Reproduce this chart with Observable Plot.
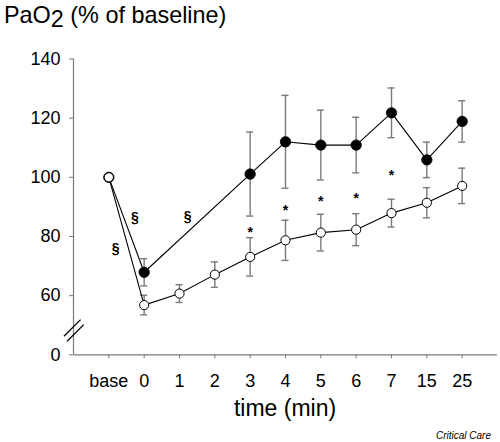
<!DOCTYPE html>
<html>
<head>
<meta charset="utf-8">
<script src="https://cdn.jsdelivr.net/npm/d3@7"></script>
<script src="https://cdn.jsdelivr.net/npm/@observablehq/plot@0.6"></script>
<style>
  html, body { margin: 0; padding: 0; background: #fff; }
  #chart svg { display: block; }
</style>
</head>
<body>
<div id="chart"></div>
<script>
// ---- data ----
const timeLabels = ["base", "0", "1", "2", "3", "4", "5", "6", "7", "15", "25"];
const openMean   = [100, 56.8, 60.7, 67.1, 73.1, 78.7, 81.3, 82.3, 87.9, 91.4, 97.1];
const openErr    = [0, 3.3, 3.0, 4.3, 6.5, 6.8, 6.2, 5.4, 4.7, 5.1, 6.0];
const filledMean = [100, 67.9, null, null, 101.1, 112.0, 110.9, 110.9, 121.8, 105.9, 118.9];
const filledErr  = [0, 4.6, null, null, 14.2, 15.7, 11.8, 9.4, 8.4, 6.0, 7.0];
// significance marks
const starIndex  = [4, 5, 6, 7, 8];
const starValue  = [82.6, 89.8, 93.0, 94.1, 101.9];
const sectIndex  = [0.19, 0.74, 2.23];
const sectValue  = [76.0, 86.3, 86.6];
// y axis: broken axis, "0" drawn where 40 would be
const yTickValues = [40, 60, 80, 100, 120, 140];
const yTickLabels = ["0", "60", "80", "100", "120", "140"];
// axis-break slashes (in data units)
const breakX1 = [-1.27, -1.18];
const breakY1 = [46.3, 44.6];
const breakX2 = [-0.80, -0.71];
const breakY2 = [51.9, 50.2];

const gray = "#7a7a7a";
const font = "'Liberation Sans', Arial, Helvetica, sans-serif";

const openRows = timeLabels.map((t, i) => ({i, v: openMean[i], e: openErr[i]}));
const filledRows = timeLabels.map((t, i) => ({i, v: filledMean[i], e: filledErr[i]})).filter(d => d.v != null);
const errRows = [...filledRows, ...openRows].filter(d => d.e > 0);
const starRows = starIndex.map((i, k) => ({i, v: starValue[k]}));
const sectRows = sectIndex.map((i, k) => ({i, v: sectValue[k]}));
const breakRows = breakX1.map((x, k) => ({x1: x, y1: breakY1[k], x2: breakX2[k], y2: breakY2[k]}));

const capHalf = 0.1;

const chart = Plot.plot({
  width: 500,
  height: 442,
  marginLeft: 73,
  marginRight: 3,
  marginTop: 58.5,
  marginBottom: 87.7,
  style: {fontFamily: font, background: "#fff", color: "#000"},
  x: {type: "linear", domain: [-1, 11], axis: null},
  y: {type: "linear", domain: [40, 140], axis: null},
  marks: [
    // axes
    Plot.ruleX([-1], {y1: 40, y2: 140, stroke: gray, strokeWidth: 1.2}),
    Plot.ruleY([40], {x1: -1, x2: 11, stroke: gray, strokeWidth: 1.2}),
    Plot.axisY({ticks: yTickValues, tickFormat: d => yTickLabels[yTickValues.indexOf(d)], tickSize: 4, tickPadding: 9, fontSize: 18, stroke: gray, fill: "#000"}),
    Plot.axisX({ticks: d3.range(timeLabels.length), tickFormat: i => timeLabels[i], tickSize: 4, tickPadding: 15, fontSize: 18, stroke: gray, fill: "#000"}),
    Plot.link(breakRows, {x1: "x1", y1: "y1", x2: "x2", y2: "y2", stroke: "#000", strokeWidth: 1.3}),
    // error bars
    Plot.ruleX(errRows, {x: "i", y1: d => d.v - d.e, y2: d => d.v + d.e, stroke: gray, strokeWidth: 1.4}),
    Plot.ruleY(errRows, {y: d => d.v + d.e, x1: d => d.i - capHalf, x2: d => d.i + capHalf, stroke: gray, strokeWidth: 1.4}),
    Plot.ruleY(errRows, {y: d => d.v - d.e, x1: d => d.i - capHalf, x2: d => d.i + capHalf, stroke: gray, strokeWidth: 1.4}),
    // lines
    Plot.line(filledRows, {x: "i", y: "v", stroke: "#000", strokeWidth: 1.1}),
    Plot.line(openRows, {x: "i", y: "v", stroke: "#000", strokeWidth: 1.1}),
    // points
    Plot.dot(filledRows, {x: "i", y: "v", r: 5.2, fill: "#000", stroke: "#000", strokeWidth: 0.8}),
    Plot.dot(openRows, {x: "i", y: "v", r: 4.6, fill: "#fff", stroke: "#000", strokeWidth: 1}),
    // significance markers
    Plot.text(starRows, {x: "i", y: "v", text: () => "*", fontSize: 14, fontWeight: "bold", dy: 3.5, fill: "#000"}),
    Plot.text(sectRows, {x: "i", y: "v", text: () => "§", fontSize: 14, fontWeight: "bold", fill: "#000"})
  ]
});

const svg = d3.select(chart);
const title = svg.append("text")
  .attr("x", 4).attr("y", 23)
  .attr("text-anchor", "start")
  .attr("font-family", font)
  .attr("font-size", 23.4).attr("fill", "#000");
title.append("tspan").text("PaO");
title.append("tspan").attr("dy", 4).text("2");
title.append("tspan").attr("dy", -4).text(" (% of baseline)");

svg.append("text")
  .attr("x", 285).attr("y", 416)
  .attr("text-anchor", "middle")
  .attr("font-family", font)
  .attr("font-size", 23).attr("fill", "#000")
  .text("time (min)");

svg.append("text")
  .attr("x", 491).attr("y", 439)
  .attr("text-anchor", "end")
  .attr("font-family", font)
  .attr("font-size", 10).attr("font-style", "italic").attr("fill", "#000")
  .text("Critical Care");

document.getElementById("chart").appendChild(chart);
</script>
</body>
</html>
